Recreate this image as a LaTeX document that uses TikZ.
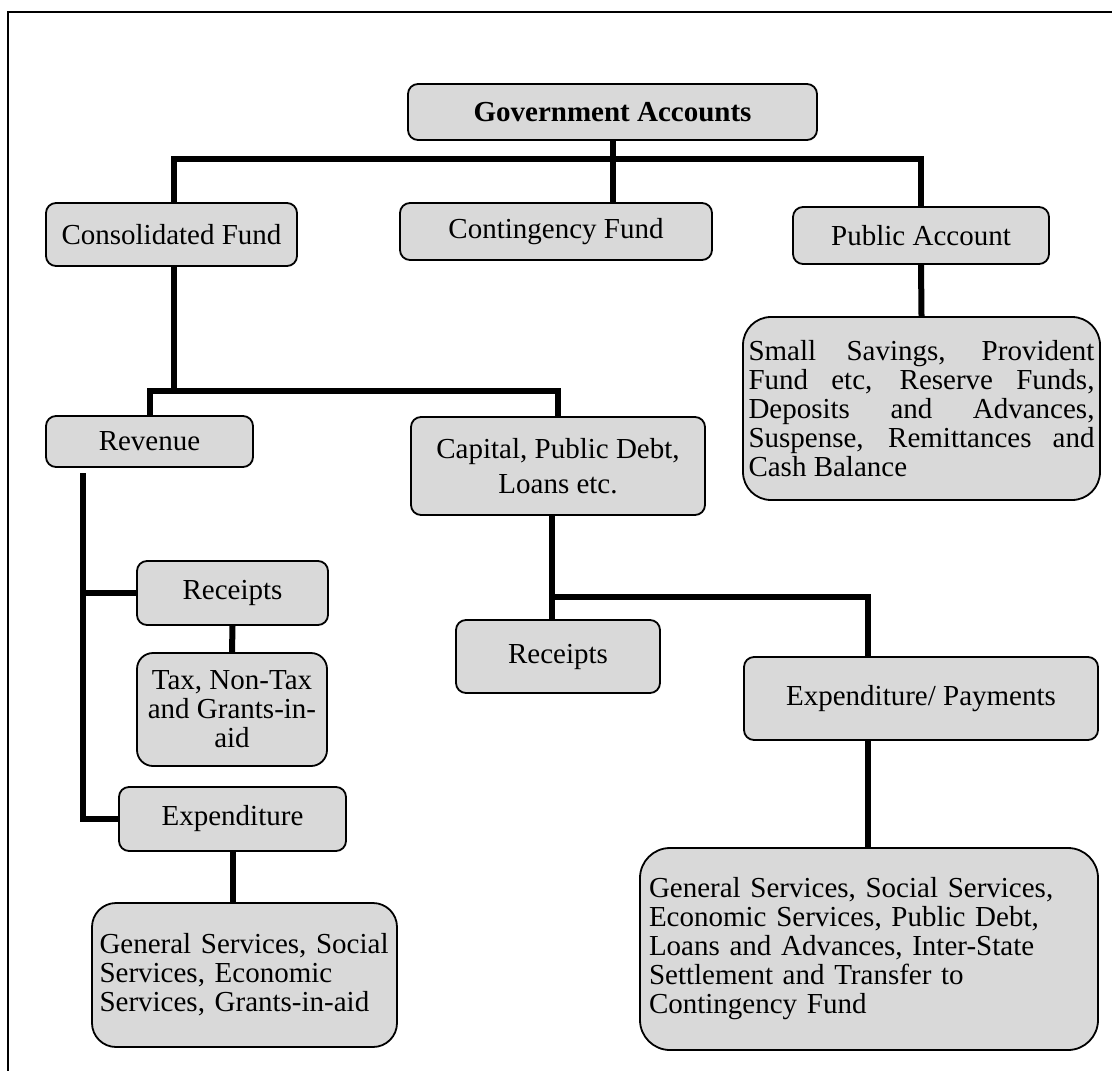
\documentclass[tikz,border=0pt]{standalone}
\usepackage{fontspec}
\setmainfont{Liberation Serif}
\definecolor{boxgray}{HTML}{D9D9D9}
\hyphenpenalty=10000
\begin{document}
\begin{tikzpicture}[x=0.5pt,y=-0.5pt,
	acct/.style={draw,line width=0.9pt,fill=boxgray,rounded corners=5pt,inner sep=0pt,align=center,
		font=\fontsize{14.5}{14.5}\selectfont},
	link/.style={line width=3pt}]
				\useasboundingbox (0,0) rectangle (1112,1070);
				\draw[line width=0.75pt] (8,1090) -- (8,12) -- (1130,12);
				% top level
				\node[acct,minimum width=204.5pt,minimum height=28pt] (ga) at (612.5,112) {\textbf{Government Accounts}};
				\node[acct,minimum width=125.5pt,minimum height=31.5pt] (cf) at (171.5,234.5) {Consolidated Fund};
				\node[acct,minimum width=156pt,minimum height=28.5pt] (ctg) at (556,231.5) {Contingency Fund};
				\node[acct,minimum width=128pt,minimum height=28.5pt] (pa) at (921,235.5) {Public Account};
				\node[acct,rounded corners=14pt,text width=173pt,align=justify,minimum width=178.5pt,minimum height=91.5pt] (ss) at (921.5,408.5) {Small Savings, Provident Fund etc, Reserve Funds, Deposits and Advances, Suspense, Remittances and Cash Balance};
				% consolidated fund
				\node[acct,minimum width=103.5pt,minimum height=25.5pt] (rev) at (149.5,441.5) {Revenue};
				\node[acct,minimum width=147pt,minimum height=49pt] (cap) at (558,466) {Capital, Public Debt,\\[3pt] Loans etc.};
				\node[acct,minimum width=95.5pt,minimum height=32pt] (recl) at (232.5,593) {Receipts};
				\node[acct,rounded corners=8pt,minimum width=95pt,minimum height=56.5pt] (tax) at (232,709.5) {Tax, Non-Tax\\ and Grants-in-\\ aid};
				\node[acct,minimum width=113.5pt,minimum height=32pt] (expl) at (232.5,819) {Expenditure};
				\node[acct,rounded corners=12pt,text width=145pt,align=left,minimum width=152.5pt,minimum height=72pt] (gsl) at (244.5,975) {General Services, Social\\ Services, Economic\\ Services, Grants-in-aid};
				\node[acct,minimum width=102pt,minimum height=36.5pt] (recr) at (558,656.5) {Receipts};
				\node[acct,minimum width=177pt,minimum height=41.5pt] (ep) at (921,698.5) {Expenditure/ Payments};
				\node[acct,rounded corners=15pt,text width=220pt,align=left,minimum width=229pt,minimum height=101pt] (gsr) at (869,949) {General Services, Social Services,\\ Economic Services, Public Debt,\\ Loans and Advances, Inter-State\\ Settlement and Transfer to\\ Contingency Fund};
				% connectors
				\coordinate (j1) at (174,159);
				\coordinate (j2) at (174,391);
				\coordinate (j3) at (83,473);
				\coordinate (j4) at (552,597);
				\coordinate (j5) at (868,597);
				\draw[link] (ga.south) -- (ga.south |- ctg.north);
				\draw[link] (cf.north -| j1) -- (j1) -- (j1 -| pa.north) -- (pa.north);
				\draw[link] (pa.south) -- (ss.north);
				\draw[link] (cf.south -| j2) -- (j2);
				\draw[link] (rev.north) |- (j2 -| cap.north) -- (cap.north);
				\draw[link] (j3) |- (expl.west);
				\draw[link] (j3 |- recl.west) -- (recl.west);
				\draw[link] (recl.south) -- (tax.north);
				\draw[link] (expl.south) -- (expl.south |- gsl.north);
				\draw[link] (cap.south -| j4) -- (j4 |- recr.north);
				\draw[link] (j4) -- (j5) -- (j5 |- ep.north);
				\draw[link] (ep.south -| j5) -- (j5 |- gsr.north);
\end{tikzpicture}
\end{document}
